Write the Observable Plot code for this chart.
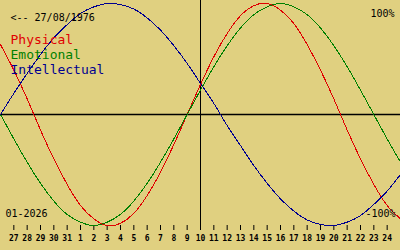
<!DOCTYPE html>
<html><head><meta charset="utf-8">
<script src="https://cdn.jsdelivr.net/npm/d3@7"></script>
<script src="https://cdn.jsdelivr.net/npm/@observablehq/plot@0.6"></script>
<style>html,body{margin:0;padding:0;background:#e0d080;overflow:hidden}</style>
</head><body><div id="chart"></div>
<script>
// day offsets relative to the marked day (10 Jan)
const dayOffsets = [-15,-14,-13,-12,-11,-10,-9,-8,-7,-6,-5,-4,-3,-2,-1,0,1,2,3,4,5,6,7,8,9,10,11,12,13,14,15];
const physical = [0.63,0.40,0.14,-0.14,-0.40,-0.63,-0.82,-0.94,-1.00,-0.98,-0.89,-0.73,-0.52,-0.27,0,0.27,0.52,0.73,0.89,0.98,1.00,0.94,0.82,0.63,0.40,0.14,-0.14,-0.40,-0.63,-0.82,-0.94];
const emotional = [0,-0.22,-0.43,-0.62,-0.78,-0.90,-0.97,-1.00,-0.97,-0.90,-0.78,-0.62,-0.43,-0.22,0,0.22,0.43,0.62,0.78,0.90,0.97,1.00,0.97,0.90,0.78,0.62,0.43,0.22,0,-0.22,-0.43];
const intellectual = [0,0.19,0.37,0.54,0.69,0.81,0.91,0.97,1.00,0.99,0.95,0.87,0.76,0.62,0.46,0.28,0.10,-0.10,-0.28,-0.46,-0.62,-0.76,-0.87,-0.95,-0.99,-1.00,-0.97,-0.91,-0.81,-0.69,-0.54];
const tickOffsets = [-14,-13,-12,-11,-10,-9,-8,-7,-6,-5,-4,-3,-2,-1,0,1,2,3,4,5,6,7,8,9,10,11,12,13,14];
const tickLabels = ["27","28","29","30","31","1","2","3","4","5","6","7","8","9","10","11","12","13","14","15","16","17","18","19","20","21","22","23","24"];
const seriesNames = ["Physical","Emotional","Intellectual"];
const seriesColors = ["#e00000","#008000","#000090"];
const birthLabel = "<-- 27/08/1976";
const monthLabel = "01-2026";
const topLabel = "100%";
const bottomLabel = "-100%";

const seriesValues = [physical, emotional, intellectual];
const font = "DejaVu Sans Mono";

const lineMarks = seriesValues.map((vals, i) =>
  Plot.line(dayOffsets.map((d, j) => ({x: d, y: vals[j]})), {
    x: "x", y: "y", stroke: seriesColors[i], strokeWidth: 1, curve: "natural", shapeRendering: "crispEdges"
  })
);

const legendMarks = seriesNames.map((name, i) =>
  Plot.text([name], {
    frameAnchor: "top-left", textAnchor: "start", lineAnchor: "bottom",
    dx: 10, dy: 40 + i * 15, fill: seriesColors[i], fontSize: 13, fontFamily: font
  })
);

const chart = Plot.plot({
  width: 400, height: 250,
  marginLeft: 0, marginRight: 0, marginTop: 3, marginBottom: 25,
  style: {background: "#e0d080", fontFamily: font, color: "black", overflow: "visible"},
  x: {domain: [-15, 15], axis: null},
  y: {domain: [-1, 1], axis: null},
  marks: [
    Plot.ruleY([0], {stroke: "black", strokeWidth: 1.5}),
    Plot.ruleX([0], {stroke: "black", strokeWidth: 1, insetTop: -3, insetBottom: -5, shapeRendering: "crispEdges"}),
    Plot.axisX({
      anchor: "bottom", ticks: tickOffsets,
      tickFormat: d => tickLabels[tickOffsets.indexOf(d)],
      tickSize: 5, tickPadding: 5, fontSize: 8, fontWeight: "bold",
      fontFamily: font, label: null, stroke: "black", fill: "black"
    }),
    ...lineMarks,
    Plot.text([birthLabel], {frameAnchor: "top-left", textAnchor: "start", lineAnchor: "bottom", dx: 10, dy: 17.5, fontSize: 10, fontFamily: font, fill: "black"}),
    ...legendMarks,
    Plot.text([topLabel], {frameAnchor: "top-right", textAnchor: "end", lineAnchor: "bottom", dx: -6, dy: 13.5, fontSize: 10, fontFamily: font, fill: "black"}),
    Plot.text([bottomLabel], {frameAnchor: "bottom-right", textAnchor: "end", lineAnchor: "bottom", dx: -5, dy: -9, fontSize: 10, fontFamily: font, fill: "black"}),
    Plot.text([monthLabel], {frameAnchor: "bottom-left", textAnchor: "start", lineAnchor: "bottom", dx: 5, dy: -9, fontSize: 10, fontFamily: font, fill: "black"})
  ]
});
document.getElementById("chart").appendChild(chart);
</script>
</body></html>
